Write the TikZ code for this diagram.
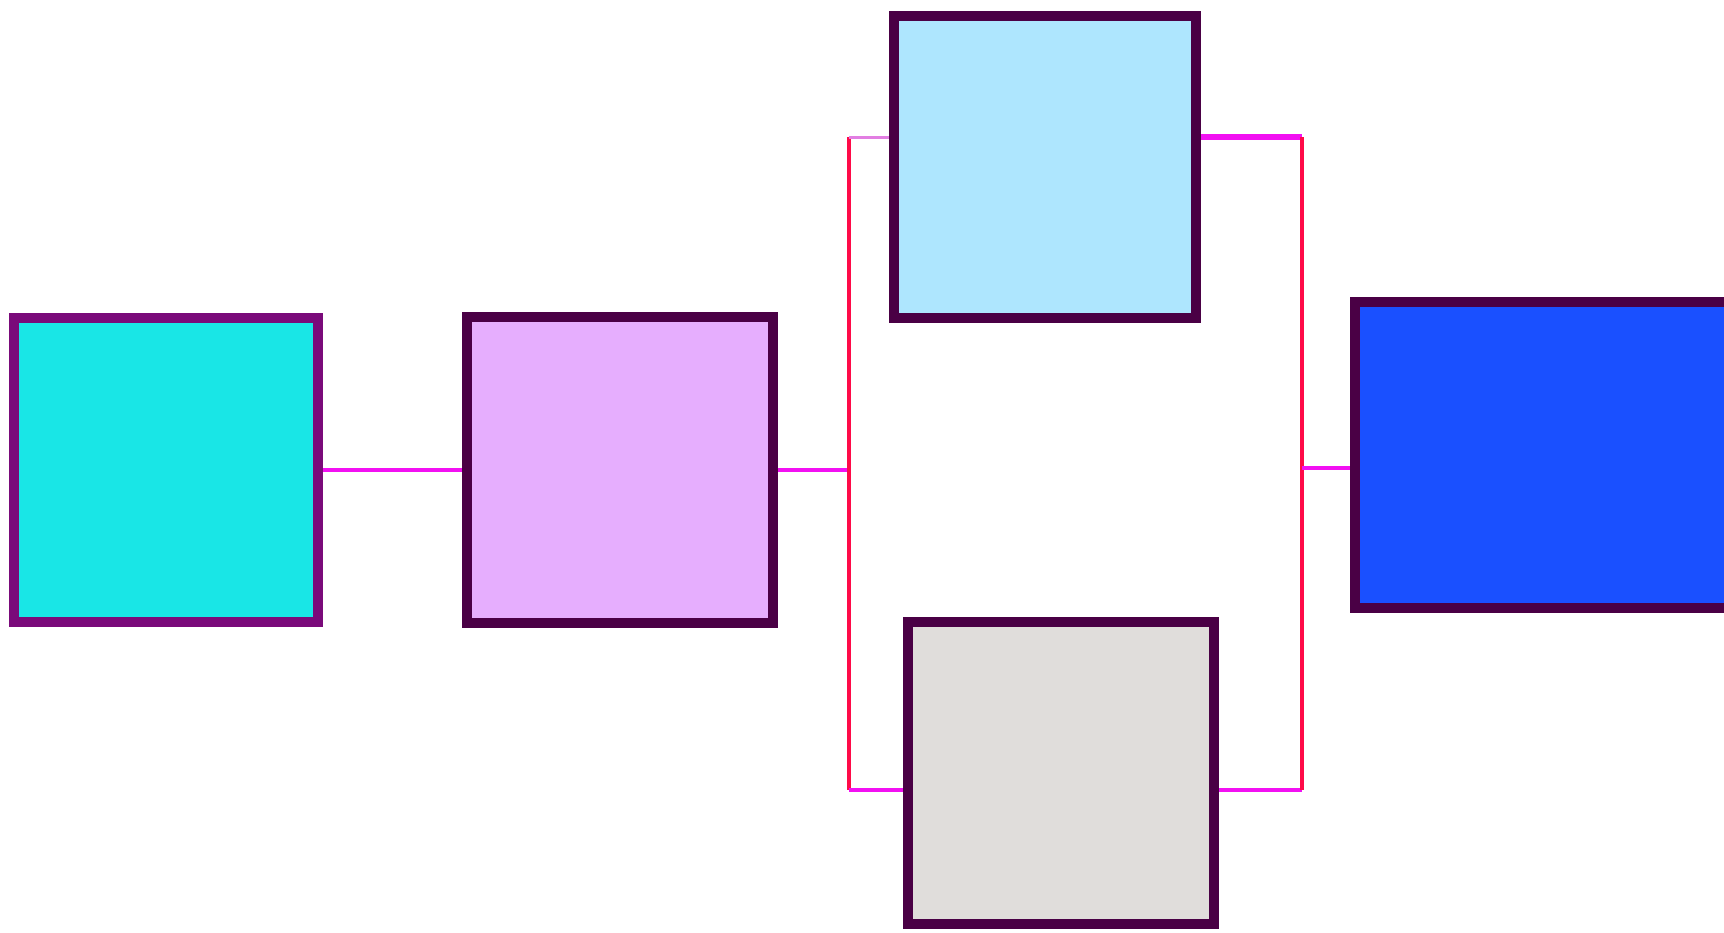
\documentclass[tikz,border=0pt]{standalone}
\usetikzlibrary{positioning}
\definecolor{cyanfill}{HTML}{19E6E6}
\definecolor{lilacfill}{HTML}{E6AEFE}
\definecolor{skyfill}{HTML}{AEE6FE}
\definecolor{greyfill}{HTML}{E0DDDB}
\definecolor{bluefill}{HTML}{1A50FF}
\definecolor{plumedge}{HTML}{7A0A7A}
\definecolor{darkedge}{HTML}{4A0045}
\definecolor{wiremag}{HTML}{F210F2}
\definecolor{wirered}{HTML}{FF0A48}
\definecolor{wirepink}{HTML}{E27EE2}
\begin{document}
\begin{tikzpicture}[x=0.01cm,y=-0.01cm,
  box/.style={draw=darkedge,rectangle,line width=0.1cm,inner sep=0pt,minimum width=3.04cm,minimum height=3.04cm},
  wire/.style={line width=0.045cm,color=wiremag},
  bus/.style={line width=0.045cm,color=wirered}]
\useasboundingbox (0,0) rectangle (1724,932);
\node[box,draw=plumedge,fill=cyanfill] (b1) at (166,470) {};
\node[box,fill=lilacfill,minimum width=3.05cm,minimum height=3.05cm] (b2) at (620,470) {};
\node[box,fill=skyfill,minimum width=3.02cm,minimum height=3.02cm] (b3) at (1045,167) {};
\node[box,fill=greyfill,minimum width=3.06cm,minimum height=3.02cm] (b4) at (1061,773) {};
\node[box,fill=bluefill,minimum width=4cm,minimum height=3.06cm] (b5) at (1555,455) {};
\coordinate (lt) at (849,137);
\coordinate (lm) at (849,470);
\coordinate (lb) at (849,790);
\coordinate (rt) at (1302,137);
\coordinate (rm) at (1302,468);
\coordinate (rb) at (1302,790);
\draw[wire] (b1.east) -- (b2.west);
\draw[wire] (b2.east) -- (lm);
\draw[bus] (lt) -- (lb);
\draw[wire,color=wirepink,line width=0.03cm] (lt) -- (lt -| b3.west);
\draw[wire] (lb) -- (lb -| b4.west);
\draw[wire,line width=0.065cm] (rt -| b3.east) -- (rt);
\draw[wire] (rb -| b4.east) -- (rb);
\draw[bus] (rt) -- (rb);
\draw[wire] (rm) -- (rm -| b5.west);
\end{tikzpicture}
\end{document}
